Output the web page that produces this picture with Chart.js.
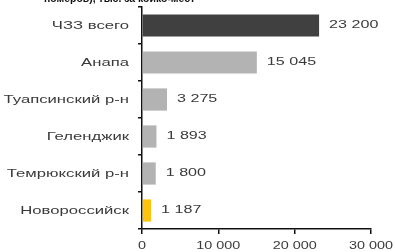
<!DOCTYPE html>
<html><head><meta charset="utf-8">
<script src="https://cdn.jsdelivr.net/npm/chart.js@4"></script>
<style>
html,body{margin:0;padding:0;background:#fff;overflow:hidden}
#wrap{position:relative;width:395px;height:252px}
#title{position:absolute;left:44px;top:-8px;font:bold 11px "Liberation Sans",Arial,sans-serif;color:#111;white-space:nowrap;transform:scaleX(0.95);transform-origin:left top}
canvas{position:absolute;left:0;top:0}
</style></head>
<body><div id="wrap"><canvas id="c" width="395" height="252"></canvas><div id="title">номеров), тыс. за койко-мест</div></div>
<script>
const categories = ["ЧЗЗ всего","Анапа","Туапсинский р-н","Геленджик","Темрюкский р-н","Новороссийск"];
const values = [23200, 15045, 3275, 1893, 1800, 1187];
const valueLabels = ["23 200","15 045","3 275","1 893","1 800","1 187"];
const xTicks = [0, 10000, 20000, 30000];
const xTickLabels = ["0","10 000","20 000","30 000"];
const barColors = ["#404040","#b3b3b3","#b3b3b3","#b3b3b3","#b3b3b3","#ffc20e"];

const FONT = '"Liberation Sans", Arial, sans-serif';

function wideText(ctx, text, x, y, align, sx){
  ctx.save();
  ctx.translate(x, y);
  ctx.scale(sx, 1);
  ctx.textAlign = align;
  ctx.fillText(text, 0, 0);
  ctx.restore();
}

const textPlugin = {
  id: 'wideText',
  afterDraw(chart){
    const ctx = chart.ctx;
    ctx.save();
    ctx.fillStyle = '#3a3a3a';
    ctx.textBaseline = 'middle';
    ctx.font = '11.5px ' + FONT;
    const ys = chart.scales.y;
    ys.ticks.forEach((t, i) => {
      wideText(ctx, categories[i], ys.right - 13, ys.getPixelForTick(i) + 0.5, 'right', 1.45);
    });
    const meta = chart.getDatasetMeta(0);
    meta.data.forEach((bar, i) => {
      wideText(ctx, valueLabels[i], bar.x + 10, bar.y - 1, 'left', 1.4);
    });
    const xs = chart.scales.x;
    xTicks.forEach((v, i) => {
      wideText(ctx, xTickLabels[i], xs.getPixelForValue(v), xs.top + 17, 'center', 1.25);
    });
    ctx.restore();
  }
};

new Chart(document.getElementById('c'), {
  type: 'bar',
  data: {
    labels: categories,
    datasets: [{
      data: values,
      backgroundColor: barColors,
      borderWidth: 0,
      categoryPercentage: 1,
      barPercentage: 0.6
    }]
  },
  options: {
    indexAxis: 'y',
    responsive: false,
    animation: false,
    events: [],
    layout: { padding: { top: 7, right: 24, left: 0, bottom: 0 } },
    plugins: { legend: { display: false }, tooltip: { enabled: false } },
    scales: {
      x: {
        min: 0, max: 30000,
        afterBuildTicks: s => { s.ticks = xTicks.map(v => ({ value: v })); },
        afterFit: s => { s.height = 23; },
        border: { display: true, color: '#111', width: 1.5 },
        grid: { drawOnChartArea: false, drawTicks: true, tickLength: 5, color: '#111', lineWidth: 1.5 },
        ticks: { display: false }
      },
      y: {
        afterFit: s => { s.width = 142; },
        border: { display: true, color: '#111', width: 1.5 },
        grid: { drawOnChartArea: false, drawTicks: true, tickLength: 4, offset: true, color: '#111', lineWidth: 1.5 },
        ticks: { display: false }
      }
    }
  },
  plugins: [textPlugin]
});
</script></body></html>
